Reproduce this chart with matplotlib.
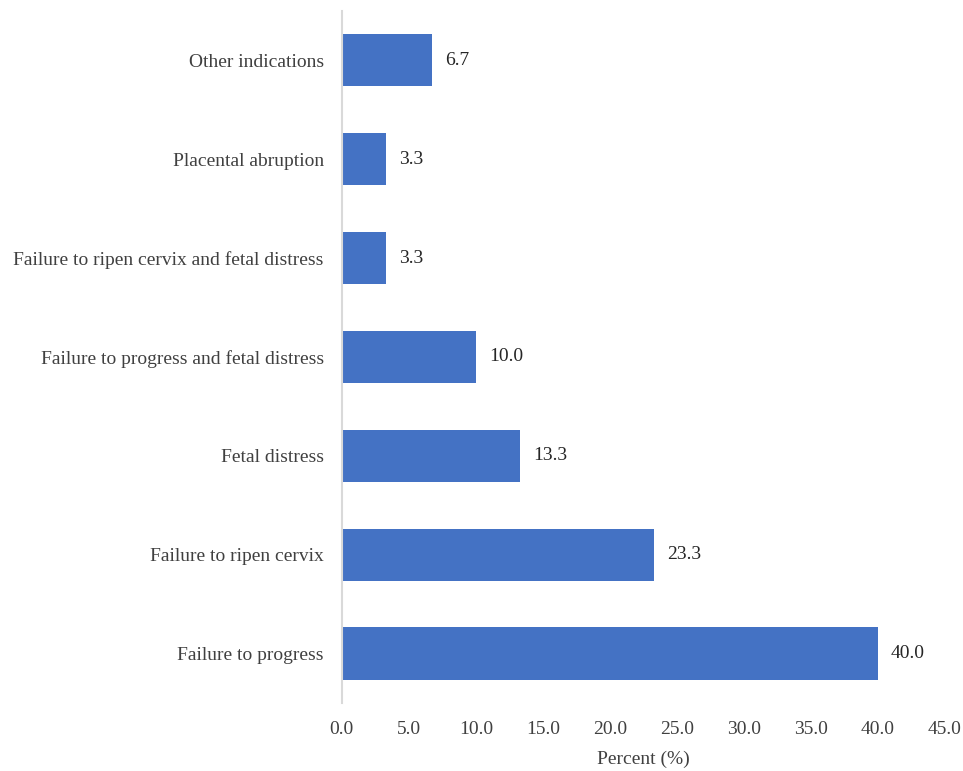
import matplotlib.pyplot as plt

plt.rcParams['font.family'] = ['Liberation Serif', 'DejaVu Serif']

categories = ['Failure to progress', 'Failure to ripen cervix', 'Fetal distress',
              'Failure to progress and fetal distress',
              'Failure to ripen cervix and fetal distress',
              'Placental abruption', 'Other indications']
percent = [40.0, 23.3, 13.3, 10.0, 3.3, 3.3, 6.7]
xticks = [0, 5, 10, 15, 20, 25, 30, 35, 40, 45]

fig = plt.figure(figsize=(9.63, 7.71), dpi=100)
ax = fig.add_axes([0.355, 0.088, 0.626, 0.898])

pos = range(len(categories))
ax.barh(pos, percent, height=0.53, color='#4472C4')
for y, v in zip(pos, percent):
    ax.annotate(f'{v:.1f}', (v, y), xytext=(9.5, 0), textcoords='offset points',
                va='center', ha='left', fontsize=14, color='#262626')

ax.set_ylim(-0.5, 6.5)
ax.set_xlim(0, 45)
ax.set_xticks(xticks)
ax.set_xticklabels([f'{t:.1f}' for t in xticks])
ax.set_yticks(list(pos))
ax.set_yticklabels(categories)
ax.tick_params(axis='both', length=0, labelsize=14, labelcolor='#404040')
ax.tick_params(axis='y', pad=13)
ax.tick_params(axis='x', pad=13)
for s in ['top', 'right', 'bottom']:
    ax.spines[s].set_visible(False)
ax.spines['left'].set_color('#d9d9d9')
ax.spines['left'].set_linewidth(1.5)
ax.set_xlabel('Percent (%)', fontsize=14, color='#404040', labelpad=9)

plt.savefig('out.png')
